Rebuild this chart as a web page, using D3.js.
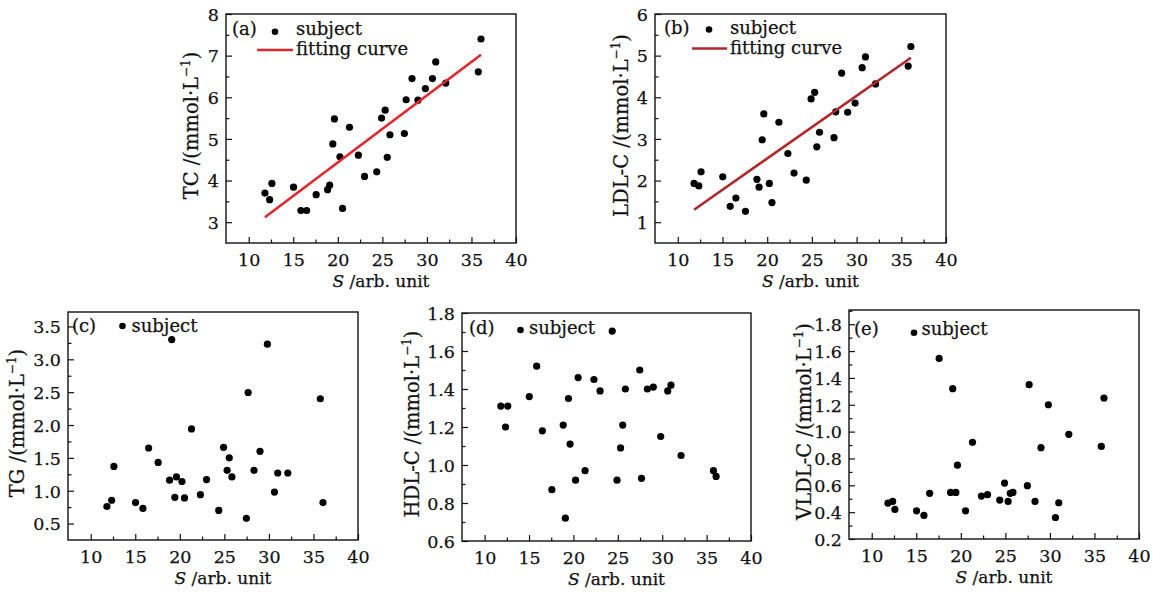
<!DOCTYPE html>
<html>
<head>
<meta charset="utf-8">
<script src="https://cdn.jsdelivr.net/npm/d3@7"></script>
<style>
  body { margin: 0; background: #fff; }
  svg text { font-family: "DejaVu Serif", serif; fill: #111; stroke: #111; stroke-width: 0.25px; }
</style>
</head>
<body>
<svg id="chart" width="1165" height="594"></svg>
<script>
// S value of each subject (shared by all five panels)
const S = [11.82, 12.35, 12.6, 15.03, 15.86, 16.5, 17.57, 18.85, 19.09, 19.44, 19.62, 20.24, 20.53, 21.31, 22.31,
  23.0, 24.37, 24.91, 25.31, 25.55, 25.85, 27.47, 27.67, 28.33, 29.0, 29.83, 30.62, 30.99, 32.12, 35.77, 36.07];

const TC = [3.70, 3.54, 3.93, 3.84, 3.28, 3.28, 3.66, 3.78, 3.89, 4.88, 5.48, 4.57, 3.33, 5.28, 4.61,
  4.10, 4.21, 5.50, 5.69, 4.56, 5.10, 5.13, 5.94, 6.45, 5.93, 6.21, 6.45, 6.85, 6.34, 6.61, 7.40];
const LDL = [1.93, 1.87, 2.21, 2.09, 1.38, 1.58, 1.26, 2.03, 1.84, 2.98, 3.60, 1.93, 1.47, 3.40, 2.65,
  2.18, 2.01, 3.96, 4.12, 2.81, 3.16, 3.03, 3.65, 4.58, 3.64, 3.86, 4.71, 4.97, 4.32, 4.75, 5.22];
const TG = [0.76, 0.855, 1.37, 0.82, 0.73, 1.65, 1.43, 1.16, 3.30, 0.90, 1.21, 1.14, 0.89, 1.94, 0.94,
  1.17, 0.70, 1.66, 1.31, 1.50, 1.21, 0.58, 2.495, 1.31, 1.60, 3.23, 0.98, 1.27, 1.27, 2.40, 0.82];
const HDL = [1.31, 1.20, 1.31, 1.36, 1.52, 1.18, 0.87, 1.21, 0.72, 1.35, 1.11, 0.92, 1.46, 0.97, 1.45,
  1.39, 1.705, 0.92, 1.09, 1.21, 1.40, 1.50, 0.93, 1.40, 1.41, 1.15, 1.39, 1.42, 1.05, 0.97, 0.94];
const VLDL = [0.468, 0.48, 0.42, 0.41, 0.376, 0.54, 1.545, 0.547, 1.32, 0.547, 0.75, 1.72, 0.41, 0.92, 0.52,
  0.53, 0.49, 0.617, 0.48, 0.54, 0.547, 0.597, 1.35, 0.48, 0.88, 1.20, 0.36, 0.47, 0.98, 0.89, 1.25];

// fitting lines (end points)
const fitS = [11.82, 36.07];
const fitTC = [3.12, 7.02];
const fitLDL = [1.30, 4.95];

// axis ticks
const xTicks = [10, 15, 20, 25, 30, 35, 40];
const tcTicks = [3, 4, 5, 6, 7, 8];
const ldlTicks = [1, 2, 3, 4, 5, 6];
const tgTicks = [0.5, 1.0, 1.5, 2.0, 2.5, 3.0, 3.5];
const hdlTicks = [0.6, 0.8, 1.0, 1.2, 1.4, 1.6, 1.8];
const vldlTicks = [0.2, 0.4, 0.6, 0.8, 1.0, 1.2, 1.4, 1.6, 1.8];

const svg = d3.select('#chart');

const panels = [
  { tag: '(a)', name: 'TC', values: TC, fit: fitTC, fitColor: '#e2262b', yTicks: tcTicks, yDomain: [2.5, 8], yFmt: d3.format('d'), yMinor: 0.5,
    box: [226, 14, 516, 243], titleX: 28, leg: { tag: [6, 21], dot: [49, 17.7], txt: [70, 21], line: [31, 67, 36], fitTxt: [70, 41] } },
  { tag: '(b)', name: 'LDL-C', values: LDL, fit: fitLDL, fitColor: '#b3272b', yTicks: ldlTicks, yDomain: [0.5, 6], yFmt: d3.format('d'), yMinor: 0.5,
    box: [655, 14, 946, 243], titleX: 27, leg: { tag: [9, 20], dot: [54, 15.5], txt: [75, 20], line: [37, 72, 34.5], fitTxt: [75, 39.5] } },
  { tag: '(c)', name: 'TG', values: TG, yTicks: tgTicks, yDomain: [0.25, 3.72], yFmt: d3.format('.1f'), yMinor: 0.25,
    box: [68, 312, 358, 540], titleX: 44, leg: { tag: [4, 20], dot: [54.5, 14], txt: [63.5, 20] } },
  { tag: '(d)', name: 'HDL-C', values: HDL, yTicks: hdlTicks, yDomain: [0.6, 1.8], yFmt: d3.format('.1f'), yMinor: 0.1,
    box: [462, 313, 751, 541], titleX: 43, leg: { tag: [7, 21], dot: [58.5, 17], txt: [67, 21] } },
  { tag: '(e)', name: 'VLDL-C', values: VLDL, yTicks: vldlTicks, yDomain: [0.2, 1.906], yFmt: d3.format('.1f'), yMinor: 0.1,
    box: [849, 310, 1139, 539], titleX: 38, leg: { tag: [5, 25], dot: [65, 22.7], txt: [72.5, 25], bg: true } },
];

panels.forEach(drawPanel);

function drawPanel(p) {
  const [x0, y0, x1, y1] = p.box;
  const x = d3.scaleLinear().domain([7.45, 40]).range([x0, x1]);
  const y = d3.scaleLinear().domain(p.yDomain).range([y1, y0]);
  const g = svg.append('g');

  // minor ticks
  const xMinor = d3.range(12.5, 40, 5);
  const yMinor = d3.range(p.yTicks[0] + p.yMinor, p.yDomain[1], p.yMinor).filter(v => !p.yTicks.some(t => Math.abs(t - v) < 1e-6));

  const xAxis = d3.axisBottom(x).tickValues(xTicks).tickSizeInner(-6).tickSizeOuter(0).tickPadding(11).tickFormat(d3.format('d'));
  const yAxis = d3.axisLeft(y).tickValues(p.yTicks).tickSizeInner(-6).tickSizeOuter(0).tickPadding(7).tickFormat(p.yFmt);

  const gx = g.append('g').attr('transform', `translate(0,${y1})`).call(xAxis);
  const gy = g.append('g').attr('transform', `translate(${x0},0)`).call(yAxis);
  g.append('g').attr('transform', `translate(0,${y1})`)
    .call(d3.axisBottom(x).tickValues(xMinor).tickSizeInner(-3.5).tickSizeOuter(0).tickFormat(''));
  g.append('g').attr('transform', `translate(${x0},0)`)
    .call(d3.axisLeft(y).tickValues(yMinor).tickSizeInner(-3.5).tickSizeOuter(0).tickFormat(''));

  g.selectAll('.domain').remove();
  g.selectAll('.tick line').attr('stroke', '#111').attr('stroke-width', 1.2);
  [gx, gy].forEach(a => a.selectAll('text').attr('font-size', 17.5).attr('font-family', '"DejaVu Serif", serif').attr('fill', '#111'));
  gy.selectAll('text').attr('dy', '0.36em');

  // frame
  g.append('rect').attr('x', x0).attr('y', y0).attr('width', x1 - x0).attr('height', y1 - y0)
    .attr('fill', 'none').attr('stroke', '#111').attr('stroke-width', 1.4);

  // points
  g.append('g').selectAll('circle').data(S.map((s, i) => [s, p.values[i]])).join('circle')
    .attr('cx', d => x(d[0])).attr('cy', d => y(d[1])).attr('r', 3.6).attr('fill', '#000');

  if (p.fit) {
    g.append('line').attr('x1', x(fitS[0])).attr('y1', y(p.fit[0])).attr('x2', x(fitS[1])).attr('y2', y(p.fit[1]))
      .attr('stroke', p.fitColor).attr('stroke-width', 2.6);
  }

  // legend
  const L = p.leg;
  const lg = g.append('g').attr('transform', `translate(${x0},${y0})`);
  if (L.bg) lg.append('rect').attr('x', L.dot[0] - 6).attr('y', 8).attr('width', 80).attr('height', 23).attr('fill', '#fff');
  lg.append('text').attr('x', L.tag[0]).attr('y', L.tag[1]).attr('font-size', 18).text(p.tag);
  lg.append('circle').attr('cx', L.dot[0]).attr('cy', L.dot[1]).attr('r', 3.3).attr('fill', '#000');
  lg.append('text').attr('x', L.txt[0]).attr('y', L.txt[1]).attr('font-size', 18).text('subject');
  if (L.line) {
    lg.append('line').attr('x1', L.line[0]).attr('x2', L.line[1]).attr('y1', L.line[2]).attr('y2', L.line[2])
      .attr('stroke', p.fitColor).attr('stroke-width', 2.6);
    lg.append('text').attr('x', L.fitTxt[0]).attr('y', L.fitTxt[1]).attr('font-size', 18).text('fitting curve');
  }

  // axis titles
  const xt = g.append('text').attr('x', (x0 + x1) / 2 + 10).attr('y', y1 + 44).attr('text-anchor', 'middle').attr('font-size', 17);
  xt.append('tspan').attr('font-style', 'italic').text('S');
  xt.append('tspan').text(' /arb. unit');

  const yt = g.append('text').attr('transform', `translate(${x0 - p.titleX},${(y0 + y1) / 2 - 3}) rotate(-90)`)
    .attr('text-anchor', 'middle').attr('font-size', 19.5);
  yt.append('tspan').text(`${p.name} /(mmol·L`);
  yt.append('tspan').attr('font-size', 12).attr('dy', -8).text('−1');
  yt.append('tspan').attr('dy', 8).text(')');
}
</script>
</body>
</html>
